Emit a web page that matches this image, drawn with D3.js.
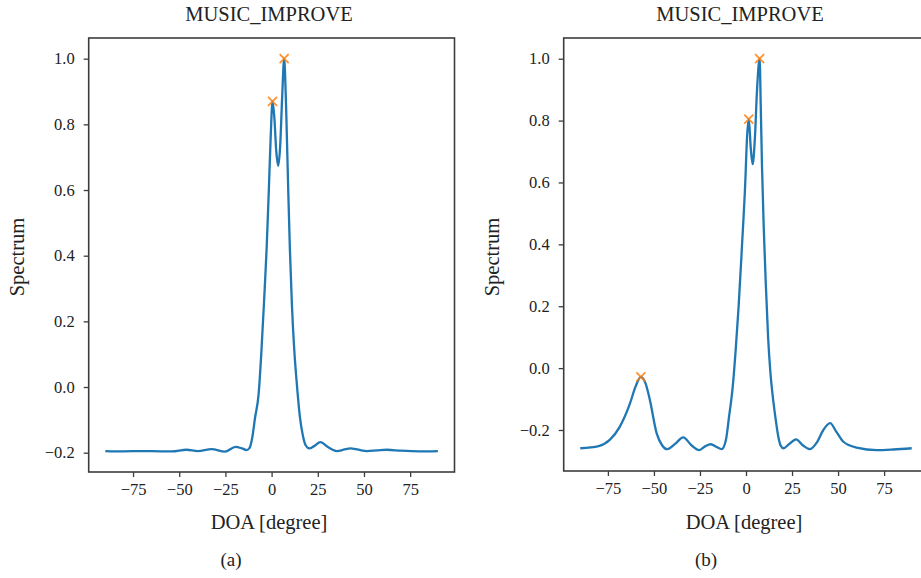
<!DOCTYPE html>
<html>
<head>
<meta charset="utf-8">
<script src="https://cdn.jsdelivr.net/npm/d3@7"></script>
<style>
  html, body { margin: 0; padding: 0; background: #fff; }
  svg { display: block; }
  svg text { font-family: "Liberation Serif", "DejaVu Serif", serif; }
</style>
</head>
<body>
<svg id="fig" width="921" height="578"></svg>
<script>
// Spectrum (a): DOA in degrees and normalised spectrum values
const doaA = [-90, -80, -70, -60, -54, -46, -40, -32.5, -25.3, -19.5, -16, -13.6, -12, -10.5, -9, -7, -5.6, -4, -2.7, -1.5, -0.5, 0.5, 1.5, 2.5, 3.6, 4.6, 5.7, 6.8, 7.6, 8.1, 9.0, 9.9, 11, 12.3, 13.5, 15.3, 17, 18.5, 20.4, 23, 26.4, 30.5, 35.4, 39, 42.6, 47, 51.6, 57, 62.4, 70, 80, 90];
const specA = [-0.195, -0.196, -0.195, -0.196, -0.196, -0.191, -0.195, -0.189, -0.197, -0.182, -0.187, -0.192, -0.186, -0.155, -0.095, -0.02, 0.1, 0.27, 0.42, 0.6, 0.76, 0.87, 0.82, 0.72, 0.674, 0.73, 0.88, 1.0, 0.9, 0.8, 0.6, 0.42, 0.25, 0.11, 0.02, -0.09, -0.15, -0.178, -0.187, -0.18, -0.168, -0.183, -0.195, -0.191, -0.187, -0.191, -0.195, -0.193, -0.191, -0.194, -0.196, -0.195];
const peakDoaA = [0.5, 6.8];
const peakSpecA = [0.87, 1.0];

// Spectrum (b)
const doaB = [-90, -80, -74, -68.5, -63, -60, -57.1, -54.5, -52.2, -48.5, -45.5, -42.8, -38.5, -34.1, -29.5, -25.4, -22, -19.2, -16, -13.2, -11, -9.2, -7.2, -5.6, -4, -2.3, -0.4, 0.6, 1.5, 2.6, 3.6, 4.8, 6, 7.4, 8.0, 8.7, 9.6, 10.7, 12, 13.2, 14.9, 16.1, 17.5, 18.8, 20.3, 23.5, 27.2, 31, 34.8, 38.5, 42, 45.7, 49, 52.9, 60.1, 71, 80, 90];
const specB = [-0.259, -0.252, -0.232, -0.189, -0.114, -0.06, -0.028, -0.05, -0.103, -0.211, -0.25, -0.262, -0.245, -0.224, -0.25, -0.265, -0.252, -0.246, -0.255, -0.262, -0.235, -0.157, -0.06, 0.059, 0.2, 0.382, 0.6, 0.75, 0.805, 0.71, 0.659, 0.74, 0.9, 1.0, 0.85, 0.65, 0.46, 0.28, 0.1, -0.01, -0.11, -0.165, -0.22, -0.25, -0.259, -0.245, -0.23, -0.25, -0.262, -0.24, -0.2, -0.178, -0.205, -0.238, -0.257, -0.265, -0.263, -0.259];
const peakDoaB = [-57.1, 1.5, 7.4];
const peakSpecB = [-0.028, 0.805, 1.0];

// Tick values and their labels
const xTicks = [-75, -50, -25, 0, 25, 50, 75];
const xTickLabels = ["\u221275", "\u221250", "\u221225", "0", "25", "50", "75"];
const yTicksA = [-0.2, 0.0, 0.2, 0.4, 0.6, 0.8, 1.0];
const yTickLabelsA = ["\u22120.2", "0.0", "0.2", "0.4", "0.6", "0.8", "1.0"];
const yTicksB = [-0.2, 0.0, 0.2, 0.4, 0.6, 0.8, 1.0];
const yTickLabelsB = ["\u22120.2", "0.0", "0.2", "0.4", "0.6", "0.8", "1.0"];

const titleText = "MUSIC_IMPROVE";
const xLabel = "DOA [degree]";
const yLabel = "Spectrum";

const svg = d3.select("#fig");
const serif = "'Liberation Serif', 'DejaVu Serif', serif";
const lineColor = "#1f77b4";
const peakColor = "#ff7f0e";
const spineColor = "#3c3c3c";
const textColor = "#222";

function drawPanel(cfg) {
  const x = d3.scaleLinear().domain([-99, 99]).range([cfg.left, cfg.right]);
  const y = d3.scaleLinear().domain(cfg.yDomain).range([cfg.bottom, cfg.top]);
  const g = svg.append("g");

  // bottom axis
  const xa = g.append("g")
    .attr("transform", `translate(0,${cfg.bottom})`)
    .call(d3.axisBottom(x).tickValues(xTicks)
      .tickFormat((d, i) => xTickLabels[i]).tickSize(5).tickSizeOuter(0).tickPadding(6));
  // left axis
  const ya = g.append("g")
    .attr("transform", `translate(${cfg.left},0)`)
    .call(d3.axisLeft(y).tickValues(cfg.yTicks)
      .tickFormat((d, i) => cfg.yTickLabels[i]).tickSize(5).tickSizeOuter(0).tickPadding(9));
  [xa, ya].forEach(a => {
    a.attr("font-family", serif).attr("font-size", 16.5);
    a.select(".domain").remove();
    a.selectAll(".tick line").attr("stroke", spineColor).attr("stroke-width", 1.3);
    a.selectAll(".tick text").attr("fill", textColor)
      .style("font-family", serif).style("font-size", "16.5px");
  });

  // frame
  g.append("rect")
    .attr("x", cfg.left).attr("y", cfg.top)
    .attr("width", cfg.right - cfg.left).attr("height", cfg.bottom - cfg.top)
    .attr("fill", "none").attr("stroke", spineColor).attr("stroke-width", 1.6);

  // spectrum curve
  const pts = cfg.doa.map((d, i) => [d, cfg.spec[i]]);
  g.append("path")
    .datum(pts)
    .attr("d", d3.line().x(d => x(d[0])).y(d => y(d[1])).curve(d3.curveMonotoneX))
    .attr("fill", "none").attr("stroke", lineColor).attr("stroke-width", 2.3)
    .attr("stroke-linejoin", "round");

  // detected peaks
  const s = 4.5;
  cfg.peakDoa.forEach((d, i) => {
    const px = x(d), py = y(cfg.peakSpec[i]);
    g.append("path")
      .attr("d", `M${px - s},${py - s}L${px + s},${py + s}M${px - s},${py + s}L${px + s},${py - s}`)
      .attr("stroke", peakColor).attr("stroke-width", 1.8).attr("opacity", 0.85);
  });

  // texts
  const txt = (x0, y0, str, size) => g.append("text")
    .attr("x", x0).attr("y", y0).attr("text-anchor", "middle")
    .attr("fill", textColor).style("font-family", serif).style("font-size", size + "px").text(str);
  txt(cfg.titleX, 21, titleText, 20.5);
  txt(cfg.xLabelX, 529, xLabel, 20.5);
  txt(cfg.capX, 566, cfg.caption, 19);
  g.append("text")
    .attr("transform", `translate(${cfg.yLabelX},257) rotate(-90)`)
    .attr("text-anchor", "middle").attr("fill", textColor)
    .style("font-family", serif).style("font-size", "20.5px").text(yLabel);
}

drawPanel({
  left: 88.7, right: 454.5, top: 38, bottom: 472,
  yDomain: [-0.2588, 1.063],
  yTicks: yTicksA, yTickLabels: yTickLabelsA,
  doa: doaA, spec: specA, peakDoa: peakDoaA, peakSpec: peakSpecA,
  titleX: 269, xLabelX: 269, yLabelX: 24, capX: 231, caption: "(a)"
});

drawPanel({
  left: 563.7, right: 928.3, top: 38, bottom: 471,
  yDomain: [-0.3325, 1.0669],
  yTicks: yTicksB, yTickLabels: yTickLabelsB,
  doa: doaB, spec: specB, peakDoa: peakDoaB, peakSpec: peakSpecB,
  titleX: 740, xLabelX: 744, yLabelX: 499, capX: 706, caption: "(b)"
});
</script>
</body>
</html>
